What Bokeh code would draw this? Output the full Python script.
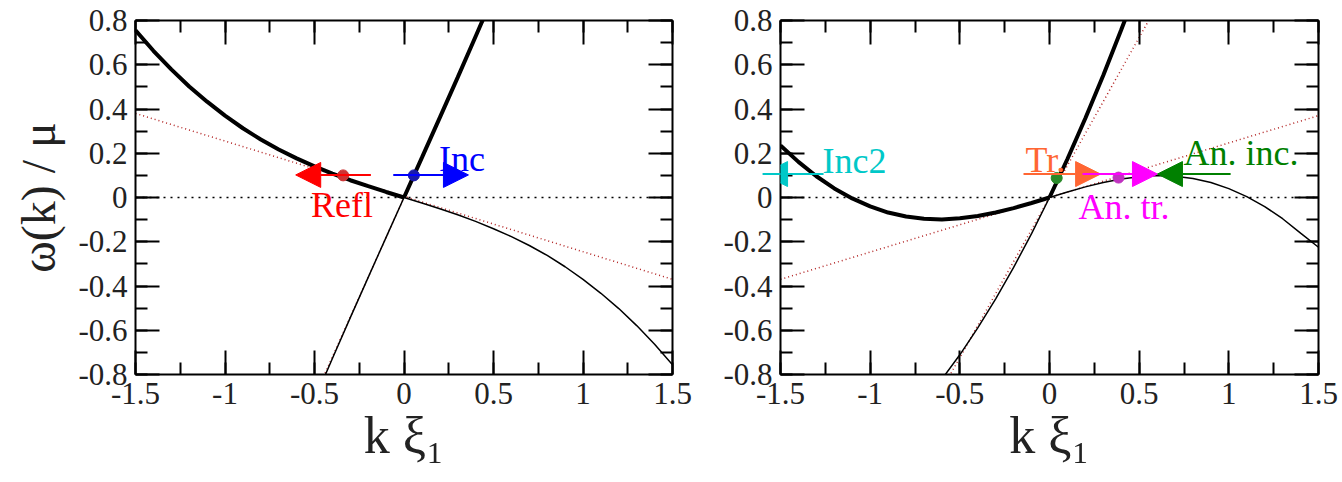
from bokeh.plotting import figure
from bokeh.layouts import row
from bokeh.models import (Range1d, LinearAxis, SingleIntervalTicker, CustomJSTickFormatter,
                          Arrow, NormalHead, Label)
from bokeh.embed import file_html
from bokeh.resources import INLINE

# ---------------- data ----------------
# left panel: slow branch (thick for k<0, thin for k>0)
left_k_neg = [-1.5, -1.4, -1.3, -1.2, -1.1, -1.0, -0.9, -0.8, -0.7, -0.6, -0.5, -0.4, -0.3, -0.2, -0.1, 0.0]
left_w_neg = [0.756, 0.663, 0.579, 0.502, 0.433, 0.370, 0.313, 0.262, 0.217, 0.177, 0.141, 0.108, 0.078, 0.051, 0.025, 0.0]
left_k_pos = [0.0, 0.1, 0.2, 0.3, 0.4, 0.5, 0.6, 0.7, 0.8, 0.9, 1.0, 1.1, 1.2, 1.3, 1.4, 1.5]
left_w_pos = [0.0, -0.025, -0.051, -0.078, -0.108, -0.141, -0.177, -0.217, -0.262, -0.313, -0.370, -0.433, -0.502, -0.579, -0.663, -0.756]
# left panel: fast branch
left_fast_k = [-0.45, -0.4, -0.3, -0.2, -0.1, 0.0, 0.1, 0.2, 0.3, 0.4, 0.45]
left_fast_w = [-0.821, -0.728, -0.543, -0.361, -0.180, 0.0, 0.180, 0.361, 0.543, 0.728, 0.821]
# left panel: sound lines
left_sound_k = [-1.5, 1.5]
left_sound_w = [0.38, -0.37]
left_sound2_k = [-0.45, 0.45]
left_sound2_w = [-0.81, 0.81]

# right panel: slow branch (thick for k<0, thin for k>0)
right_k_neg = [-1.5, -1.4, -1.3, -1.2, -1.1, -1.0, -0.9, -0.8, -0.7, -0.6, -0.5, -0.4, -0.3, -0.2, -0.1, 0.0]
right_w_neg = [0.235, 0.161, 0.096, 0.041, -0.004, -0.040, -0.068, -0.086, -0.096, -0.099, -0.094, -0.084, -0.068, -0.048, -0.025, 0.0]
right_k_pos = [0.0, 0.1, 0.2, 0.3, 0.4, 0.5, 0.6, 0.7, 0.8, 0.9, 1.0, 1.1, 1.2, 1.3, 1.4, 1.5]
right_w_pos = [0.0, 0.025, 0.048, 0.068, 0.084, 0.094, 0.099, 0.096, 0.086, 0.068, 0.040, 0.004, -0.041, -0.096, -0.161, -0.225]
# right panel: fast branch
right_fast_k = [-0.6, -0.5, -0.4, -0.3, -0.2, -0.1, 0.0, 0.1, 0.2, 0.3, 0.4, 0.45]
right_fast_w = [-0.821, -0.711, -0.589, -0.458, -0.316, -0.163, 0.0, 0.174, 0.358, 0.553, 0.758, 0.864]
# right panel: sound lines
right_sound_k = [-1.5, 1.5]
right_sound_w = [-0.37, 0.37]
right_sound2_k = [-0.56, 0.56]
right_sound2_w = [-0.81, 0.81]

# wave-packet markers
left_dot_k = [-0.34, 0.055]
left_dot_w = [0.1, 0.1]
left_dot_c = ["#cc3333", "#1a1aaa"]
right_dot_k = [0.04, 0.385]
right_dot_w = [0.088, 0.09]
right_dot_c = ["#2a8a2a", "#c032c0"]

# group-velocity arrows: start k, end k, omega, colour
left_arrow_k0 = [-0.185, -0.06]
left_arrow_k1 = [-0.605, 0.36]
left_arrow_w = [0.102, 0.102]
left_arrow_c = ["#ff0000", "#0000ff"]
right_arrow_k0 = [-1.26, -0.145, 0.184, 1.01]
right_arrow_k1 = [-1.60, 0.285, 0.602, 0.602]
right_arrow_w = [0.106, 0.106, 0.106, 0.106]
right_arrow_c = ["#00c8c8", "#ff6633", "#ff00ff", "#008000"]

# text labels (baseline positions)
left_lab_text = ["Refl", "Inc"]
left_lab_k = [-0.52, 0.196]
left_lab_w = [-0.095, 0.109]
left_lab_c = ["#ff0000", "#0000ff"]
right_lab_text = ["Inc2", "Tr.", "An. tr.", "An. inc."]
right_lab_k = [-1.266, -0.134, 0.162, 0.747]
right_lab_w = [0.10, 0.108, -0.104, 0.136]
right_lab_c = ["#00c8c8", "#ff6633", "#ff00ff", "#008000"]

xtitle = "k ξ₁"
ytitle = "ω(k) / μ"

x_ticks_interval = 0.5
y_ticks_interval = 0.2

SERIF = "Liberation Serif"
TEXT_COL = "#222222"


def make_panel(width, border_left, border_right, with_ylabel):
    p = figure(width=width, height=482, output_backend="svg", toolbar_location=None,
               x_range=Range1d(-1.5, 1.5), y_range=Range1d(-0.8, 0.8),
               x_axis_location=None, y_axis_location=None,
               min_border_left=border_left, min_border_right=border_right,
               min_border_top=20, min_border_bottom=108)
    p.outline_line_color = None
    p.grid.visible = False
    p.background_fill_color = "white"
    p.border_fill_color = "white"

    fmt = CustomJSTickFormatter(code="return (Math.round(tick*10)/10).toString();")
    for side in ["below", "left", "above", "right"]:
        interval = x_ticks_interval if side in ("below", "above") else y_ticks_interval
        ax = LinearAxis(ticker=SingleIntervalTicker(interval=interval, num_minor_ticks=2),
                        formatter=fmt)
        ax.major_tick_in = 24
        ax.major_tick_out = 0
        ax.minor_tick_in = 12
        ax.minor_tick_out = 0
        ax.axis_line_width = 2
        ax.major_tick_line_width = 2
        ax.minor_tick_line_width = 2
        ax.axis_line_color = "black"
        if side in ("below", "left"):
            ax.major_label_text_font = SERIF
            ax.major_label_text_font_size = "31px"
            ax.major_label_text_color = TEXT_COL
            ax.major_label_standoff = 8
            ax.axis_label_text_font = SERIF
            ax.axis_label_text_font_style = "normal"
            ax.axis_label_text_color = TEXT_COL
            if side == "below":
                ax.axis_label = xtitle
                ax.axis_label_text_font_size = "52px"
                ax.axis_label_standoff = 0
            elif with_ylabel:
                ax.axis_label = ytitle
                ax.axis_label_text_font_size = "48px"
                ax.axis_label_standoff = 10
        else:
            # mirrored tick marks only
            ax.major_label_text_color = None
            ax.major_label_text_font_size = "1px"
            ax.major_label_standoff = 0
        p.add_layout(ax, side)
    return p


def draw(p, k_neg, w_neg, k_pos, w_pos, fk, fw, sk, sw, s2k, s2w):
    # zero line
    p.line([-1.5, 1.5], [0, 0], line_color="black", line_width=1.5, line_dash="2 5")
    # sound lines
    p.line(sk, sw, line_color="#b22222", line_width=1.5, line_dash="1 3")
    p.line(s2k, s2w, line_color="#b22222", line_width=1.5, line_dash="1 3")
    # slow branch
    p.line(k_neg, w_neg, line_color="black", line_width=4)
    p.line(k_pos, w_pos, line_color="black", line_width=1.5)
    # fast branch, thick where k>0
    neg_k = [k for k in fk if k <= 0]
    neg_w = [w for k, w in zip(fk, fw) if k <= 0]
    pos_k = [k for k in fk if k >= 0]
    pos_w = [w for k, w in zip(fk, fw) if k >= 0]
    p.line(neg_k, neg_w, line_color="black", line_width=1.5)
    p.line(pos_k, pos_w, line_color="black", line_width=4)


def arrows(p, k0, k1, w, cols):
    for a, b, y, c in zip(k0, k1, w, cols):
        p.add_layout(Arrow(end=NormalHead(size=25, fill_color=c, line_color=c),
                           x_start=a, y_start=y, x_end=b, y_end=y,
                           line_color=c, line_width=2))


def labels(p, texts, ks, ws, cols):
    for t, x, y, c in zip(texts, ks, ws, cols):
        p.add_layout(Label(x=x, y=y, y_offset=14, text=t, text_color=c, text_font=SERIF,
                           text_font_size="36px", text_baseline="alphabetic",
                           text_align="left"))


p1 = make_panel(700, 135, 28, True)
draw(p1, left_k_neg, left_w_neg, left_k_pos, left_w_pos, left_fast_k, left_fast_w,
     left_sound_k, left_sound_w, left_sound2_k, left_sound2_w)
arrows(p1, left_arrow_k0, left_arrow_k1, left_arrow_w, left_arrow_c)
p1.scatter(left_dot_k, left_dot_w, size=11, color=left_dot_c)
labels(p1, left_lab_text, left_lab_k, left_lab_w, left_lab_c)

p2 = make_panel(642, 80, 24, False)
draw(p2, right_k_neg, right_w_neg, right_k_pos, right_w_pos, right_fast_k, right_fast_w,
     right_sound_k, right_sound_w, right_sound2_k, right_sound2_w)
arrows(p2, right_arrow_k0, right_arrow_k1, right_arrow_w, right_arrow_c)
p2.scatter(right_dot_k, right_dot_w, size=11, color=right_dot_c)
labels(p2, right_lab_text, right_lab_k, right_lab_w, right_lab_c)

layout = row(p1, p2, spacing=0)
open("out.html", "w").write(file_html(layout, INLINE))
